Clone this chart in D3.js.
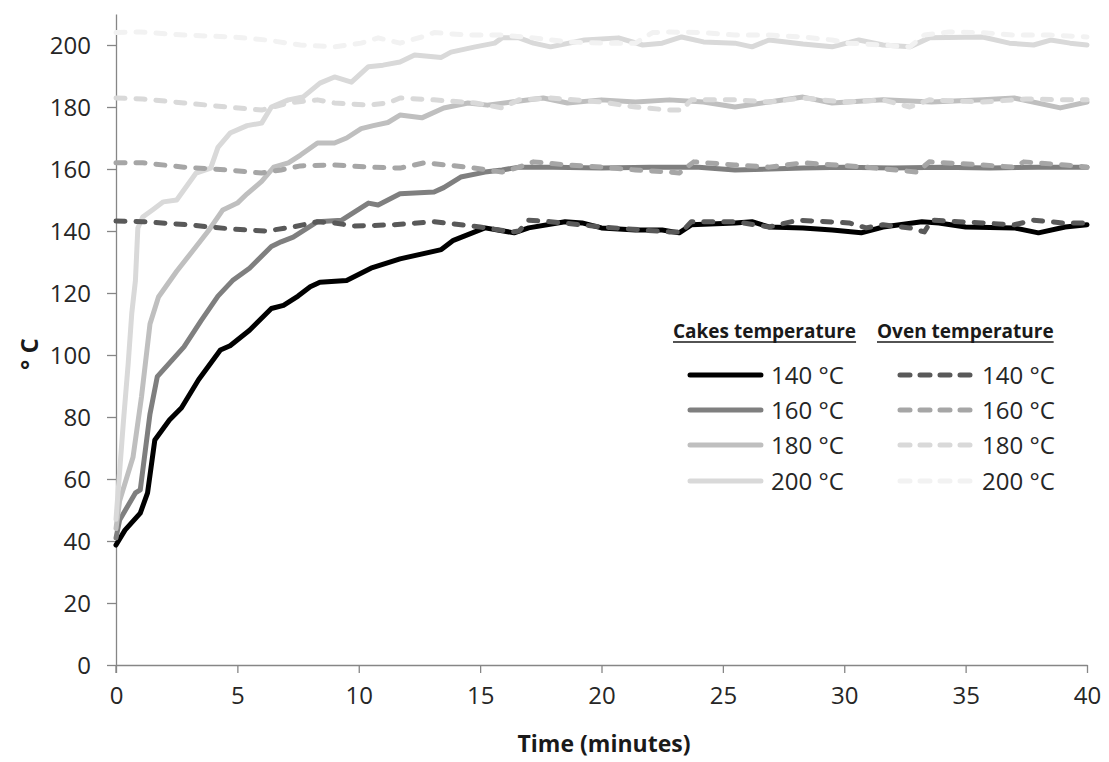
<!DOCTYPE html>
<html><head><meta charset="utf-8">
<script src="https://cdn.jsdelivr.net/npm/d3@7"></script>
<style>html,body{margin:0;padding:0;background:#fff;} svg{display:block;}</style>
</head><body>
<svg id="chart" width="1109" height="762"></svg>
<script>
// ---- data: [time (min), temperature (°C)] ----
const cake140 = [[0,38.7],[0.37,43.5],[1.0,49],[1.3,55.5],[1.6,72.6],[2.2,79],[2.7,83],[3.4,92],[4.3,101.6],[4.7,103],[5.5,108],[6.4,115],[6.9,116],[7.5,119],[8.0,122],[8.4,123.5],[9.5,124],[10.5,128],[11.7,131],[13.4,134],[13.9,137],[15.2,141],[16.4,139.4],[17,141],[18.5,143],[19.2,142.6],[20,141],[21.4,140.3],[22.5,140.3],[23.2,139.4],[23.7,142],[25.5,142.6],[26.2,143],[26.9,141.3],[28.3,141],[29.5,140.3],[30.7,139.4],[31.6,141.3],[33.2,143],[33.9,142.6],[35,141.3],[37,141],[38,139.4],[39.1,141.3],[40,142]];
const cake160 = [[0,41],[0.15,46.8],[0.8,55.5],[1.0,56.5],[1.4,81],[1.7,93],[2.2,97.4],[2.8,102.6],[3.5,111],[4.2,119],[4.8,124],[5.5,128],[6.4,135],[6.8,136.5],[7.3,138],[8.3,143],[9.3,143.5],[9.8,146],[10.4,149],[10.8,148.4],[11.7,152],[13.1,152.6],[13.5,154],[14.2,157.4],[15.2,159],[15.9,159.7],[16.6,160.6],[18,160.6],[20,160.3],[22,160.6],[24,160.6],[25.5,159.7],[28.3,160.3],[30,160.6],[32,160.3],[34,160.6],[36,160.3],[38,160.6],[40,160.6]];
const cake180 = [[0,44],[0.15,53],[0.7,67],[1.05,86.5],[1.4,110],[1.75,118.7],[2.5,127],[3.1,133],[3.8,140],[4.4,146.8],[5,149],[5.4,152],[6,156],[6.5,160.6],[7.1,162],[7.6,164.5],[8.3,168.4],[9,168.4],[9.5,170],[10.1,173],[10.6,174],[11.2,175],[11.7,177.4],[12.6,176.5],[13.5,179.7],[14.5,181.3],[15.3,180.6],[16.3,181.6],[17.6,182.9],[18.6,181.3],[20,182.3],[21.4,181.6],[22.8,182.3],[24.2,181.6],[25.5,180],[26.9,181.6],[28.3,183.2],[29.5,181.3],[31.6,182.3],[33.6,181.6],[35.7,182.3],[37,182.9],[38.9,179.7],[40,181.6]];
const cake200 = [[0,47],[0.3,78],[0.5,97],[0.65,113.5],[0.8,124],[0.9,141],[1.1,144.5],[1.5,146.8],[1.95,149.4],[2.5,150],[3.3,158.7],[3.9,160.3],[4.2,167],[4.7,171.6],[5.4,174],[6,174.8],[6.4,180],[7.1,182.3],[7.7,183.2],[8.4,187.7],[9,189.7],[9.7,188],[10.4,193],[11,193.5],[11.7,194.5],[12.3,196.8],[13.4,196],[13.8,197.7],[14.8,199.4],[15.6,200.6],[15.9,202.3],[16.6,202.3],[17.2,200.6],[17.9,199.4],[19.3,201.6],[20.7,202.3],[21.7,200],[22.5,200.6],[23.3,202.6],[24.2,201],[25.5,200.6],[26.2,199.4],[26.9,201.6],[28.3,200.3],[29.5,199.4],[30.6,201.6],[31.6,200],[32.7,199.4],[33.5,202.3],[35.7,202.6],[36.8,200.6],[37.8,200],[38.5,201.6],[39.3,200.6],[40,200]];
const oven140 = [[0,143.2],[1.1,143],[3,142],[4.8,140.6],[6.2,140],[7.3,141.3],[8.3,143],[9,142.6],[9.8,141.6],[11.4,142],[13.1,143],[15,141.3],[16.3,139.7],[16.6,140],[17,143.5],[17.9,143],[20,141.3],[22.8,139.7],[23.3,139.7],[23.7,143],[25.5,143],[26.9,141.3],[28.1,143.5],[30.2,142.6],[30.9,141],[31.6,142],[32.7,141],[33.3,139.7],[33.6,143.5],[35.7,142.6],[37,142],[37.8,143.5],[39,142.6],[40,142.6]];
const oven160 = [[0,162],[1.1,162],[2.8,160.6],[4.6,159.7],[6,158.7],[6.8,159.7],[7.6,161],[9,161.3],[10.4,160.6],[11.7,160.3],[12.7,162],[14.5,160.6],[15.9,159],[16.6,160.6],[17.2,162.3],[18.6,161.3],[20,160.6],[21.4,159.7],[22.8,159],[23.2,158.7],[23.8,162.3],[25.5,161.3],[26.9,160.6],[28.3,162],[30.9,160.6],[33,159],[33.5,162.3],[35.7,161.3],[37,160.6],[37.4,162.3],[39.1,161.3],[40,160.6]];
const oven180 = [[0,182.9],[1.1,182.6],[2.8,181.3],[4.6,180],[6,179],[7.1,181.3],[8.3,182.3],[9,181.3],[10.4,180.6],[11.2,181.3],[11.7,182.9],[13.1,182.3],[14.8,181.3],[15.9,179.7],[16.6,182.3],[17.9,182.9],[20,181.6],[21.4,180],[22.8,179],[23.3,179],[23.7,182.3],[25.5,182.3],[26.9,181.6],[28.3,182.9],[30,181.6],[31.6,182.3],[32.7,180],[33.5,182.3],[35.7,181.6],[37.5,182.6],[39,182.3],[40,182.3]];
const oven200 = [[0,204],[1,204.2],[2.8,203.2],[4.8,202.6],[6.2,201.6],[7.6,200],[9,199.4],[10.1,200.6],[10.8,202.3],[11.7,200.6],[12.6,202.6],[13.1,204],[14.5,203.2],[15.9,203.2],[17.2,202.3],[18.6,201],[20,200.6],[21.4,200.6],[22.1,204],[22.8,204.2],[24.2,204],[25.5,203.2],[26.9,203.2],[28.3,202.6],[29.5,201.6],[30.2,200.6],[31.6,200],[32.7,199.4],[33.3,203.2],[34.3,204.2],[35.7,204],[37,203.2],[38.5,203.2],[40,202.6]];

const seriesLabels = ["140 °C", "160 °C", "180 °C", "200 °C"];
const xTicks = [0, 5, 10, 15, 20, 25, 30, 35, 40];
const yTicks = [0, 20, 40, 60, 80, 100, 120, 140, 160, 180, 200];
const cakeSeries = [cake140, cake160, cake180, cake200];
const ovenSeries = [oven140, oven160, oven180, oven200];
const cakeColors = ["#000000", "#7f7f7f", "#bfbfbf", "#d9d9d9"];
const ovenColors = ["#595959", "#a6a6a6", "#d9d9d9", "#f2f2f2"];

const svg = d3.select("#chart");
const FONT = "'Open Sans', 'Noto Sans', sans-serif";
const x = d3.scaleLinear().domain([0, 40]).range([116, 1087]);
const y = d3.scaleLinear().domain([0, 210]).range([665, 14]);
const axisColor = "#868686";

// axes
const gx = svg.append("g").attr("transform", `translate(0,${y(0)})`)
  .call(d3.axisBottom(x).tickValues(xTicks).tickSize(8).tickSizeOuter(0).tickPadding(14));
const gy = svg.append("g").attr("transform", `translate(${x(0)},0)`)
  .call(d3.axisLeft(y).tickValues(yTicks).tickSize(9).tickSizeOuter(0).tickPadding(16));
[gx, gy].forEach(g => {
  g.select(".domain").attr("stroke", axisColor).attr("stroke-width", 1.3);
  g.selectAll(".tick line").attr("stroke", axisColor).attr("stroke-width", 1.3);
  g.selectAll(".tick text").attr("fill", "#262626").style("font-family", FONT).style("font-size", "24px");
});
gy.selectAll(".tick text").attr("dy", "0.36em");
gx.selectAll(".tick text").attr("dy", "0.71em");

// extend y axis line down to include bottom tick
svg.append("line").attr("x1", x(0)).attr("x2", x(0)).attr("y1", y(0)).attr("y2", y(0) + 8)
  .attr("stroke", axisColor).attr("stroke-width", 1.3);

// axis titles
svg.append("text").attr("x", 604).attr("y", 752).attr("text-anchor", "middle")
  .style("font-family", FONT).style("font-size", "23px").style("font-weight", "bold").attr("fill", "#1a1a1a")
  .text("Time (minutes)");
svg.append("text").attr("transform", "translate(38,354) rotate(-90)").attr("text-anchor", "middle")
  .style("font-family", FONT).style("font-size", "24px").style("font-weight", "bold").attr("fill", "#1a1a1a")
  .text("° C");

// lines
const line = d3.line().x(d => x(d[0])).y(d => y(d[1])).curve(d3.curveLinear);
const plot = svg.append("g");
cakeSeries.forEach((s, i) => {
  plot.append("path").datum(s).attr("d", line).attr("fill", "none")
    .attr("stroke", cakeColors[i]).attr("stroke-width", 5)
    .attr("stroke-linejoin", "round").attr("stroke-linecap", "round");
});
ovenSeries.forEach((s, i) => {
  plot.append("path").datum(s).attr("d", line).attr("fill", "none")
    .attr("stroke", ovenColors[i]).attr("stroke-width", 5)
    .attr("stroke-dasharray", "9,11")
    .attr("stroke-linejoin", "round").attr("stroke-linecap", "round");
});

// legend
const leg = svg.append("g");
function header(txt, x0) {
  const t = leg.append("text").attr("x", x0).attr("y", 338)
    .style("font-family", FONT).style("font-size", "19px").style("font-weight", "bold").attr("fill", "#1a1a1a")
    .text(txt);
  const w = t.node().getComputedTextLength();
  leg.append("line").attr("x1", x0).attr("x2", x0 + w).attr("y1", 342).attr("y2", 342)
    .attr("stroke", "#1a1a1a").attr("stroke-width", 1.5);
}
header("Cakes temperature", 673);
header("Oven temperature", 877);
const rowY = [375, 410, 445, 481];
seriesLabels.forEach((lab, i) => {
  leg.append("line").attr("x1", 690).attr("x2", 761).attr("y1", rowY[i]).attr("y2", rowY[i])
    .attr("stroke", cakeColors[i]).attr("stroke-width", 5).attr("stroke-linecap", "round");
  leg.append("text").attr("x", 771).attr("y", rowY[i]).attr("dy", "0.36em")
    .style("font-family", FONT).style("font-size", "24px").attr("fill", "#262626").text(lab);
  leg.append("line").attr("x1", 900).attr("x2", 973).attr("y1", rowY[i]).attr("y2", rowY[i])
    .attr("stroke", ovenColors[i]).attr("stroke-width", 5).attr("stroke-linecap", "round")
    .attr("stroke-dasharray", "10,10");
  leg.append("text").attr("x", 982).attr("y", rowY[i]).attr("dy", "0.36em")
    .style("font-family", FONT).style("font-size", "24px").attr("fill", "#262626").text(lab);
});
</script>
</body></html>
